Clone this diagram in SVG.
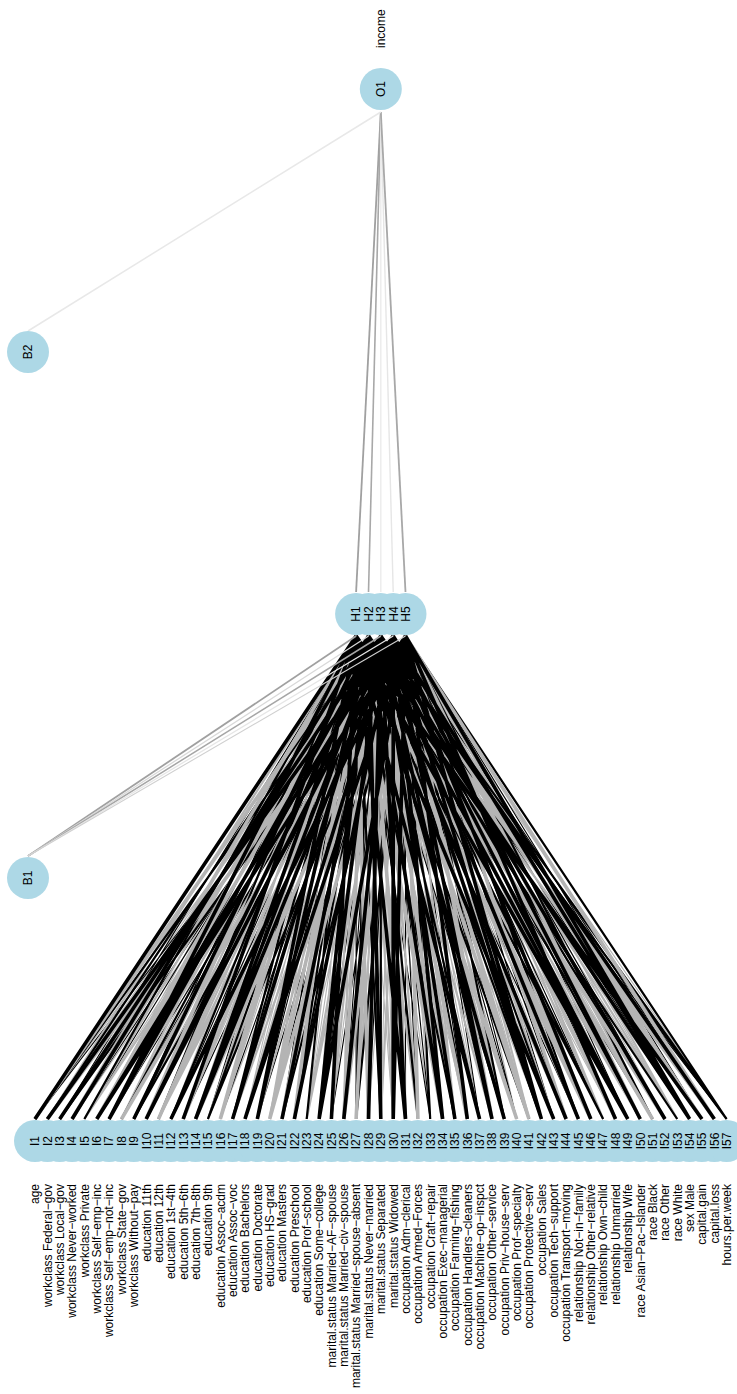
<svg xmlns="http://www.w3.org/2000/svg" width="737" height="1394" viewBox="0 0 737 1394">
<style>
text{font-family:"Liberation Sans",Arial,Helvetica,sans-serif;font-size:12px;fill:#000}
.nl{text-anchor:middle}
.vl{text-anchor:end}
.ol{text-anchor:start}
.nd{fill:#add8e6;stroke:none}
#connectors path{fill:none;stroke-linecap:butt}
.A{stroke:#000;stroke-width:3.6}
.B{stroke:#000;stroke-width:2.2}
.C{stroke:#000;stroke-width:1.1}
.D{stroke:#b4b4b4;stroke-width:3.6}
.E{stroke:#b4b4b4;stroke-width:2.2}
.F{stroke:#b4b4b4;stroke-width:1.1}
</style>
<rect width="737" height="1394" fill="#fff"/>
<g id="connectors">
<path class="F" d="M96.8 1119 356.1 636M170.9 1119 356.1 636M245 1119 356.1 636M319.1 1119 356.1 636M393.2 1119 356.1 636M467.3 1119 356.1 636M541.4 1119 356.1 636M615.5 1119 356.1 636M689.6 1119 356.1 636
M59.7 1119 368.5 636M121.5 1119 368.5 636M183.2 1119 368.5 636M245 1119 368.5 636M306.7 1119 368.5 636M368.5 1119 368.5 636M430.2 1119 368.5 636M492 1119 368.5 636M553.7 1119 368.5 636M615.5 1119 368.5 636M677.2 1119 368.5 636
M47.4 1119 380.8 636M133.8 1119 380.8 636M220.3 1119 380.8 636M306.7 1119 380.8 636M393.2 1119 380.8 636M479.6 1119 380.8 636M566.1 1119 380.8 636M652.5 1119 380.8 636
M35 1119 393.2 636M84.4 1119 393.2 636M133.8 1119 393.2 636M183.2 1119 393.2 636M232.6 1119 393.2 636M282 1119 393.2 636M331.4 1119 393.2 636M380.8 1119 393.2 636M430.2 1119 393.2 636M479.6 1119 393.2 636M529 1119 393.2 636M578.4 1119 393.2 636M627.8 1119 393.2 636M677.2 1119 393.2 636M726.6 1119 393.2 636
M72.1 1119 405.5 636M146.2 1119 405.5 636M220.3 1119 405.5 636M294.4 1119 405.5 636M368.5 1119 405.5 636M442.6 1119 405.5 636M516.7 1119 405.5 636M590.8 1119 405.5 636M664.9 1119 405.5 636"/>
<path class="C" d="M59.7 1119 356.1 636M133.8 1119 356.1 636M207.9 1119 356.1 636M282 1119 356.1 636M356.1 1119 356.1 636M430.2 1119 356.1 636M504.3 1119 356.1 636M578.4 1119 356.1 636M652.5 1119 356.1 636M726.6 1119 356.1 636
M84.4 1119 380.8 636M170.9 1119 380.8 636M257.3 1119 380.8 636M343.8 1119 380.8 636M430.2 1119 380.8 636M516.7 1119 380.8 636M603.1 1119 380.8 636M689.6 1119 380.8 636
M72.1 1119 393.2 636M121.5 1119 393.2 636M170.9 1119 393.2 636M220.3 1119 393.2 636M269.7 1119 393.2 636M319.1 1119 393.2 636M368.5 1119 393.2 636M417.9 1119 393.2 636M467.3 1119 393.2 636M516.7 1119 393.2 636M566.1 1119 393.2 636M615.5 1119 393.2 636M664.9 1119 393.2 636M714.3 1119 393.2 636
M35 1119 405.5 636M109.1 1119 405.5 636M183.2 1119 405.5 636M257.3 1119 405.5 636M331.4 1119 405.5 636M405.5 1119 405.5 636M479.6 1119 405.5 636M553.7 1119 405.5 636M627.8 1119 405.5 636M701.9 1119 405.5 636"/>
<path class="E" d="M47.4 1119 356.1 636M121.5 1119 356.1 636M195.6 1119 356.1 636M269.7 1119 356.1 636M343.8 1119 356.1 636M417.9 1119 356.1 636M492 1119 356.1 636M566.1 1119 356.1 636M640.2 1119 356.1 636M714.3 1119 356.1 636
M84.4 1119 368.5 636M146.2 1119 368.5 636M207.9 1119 368.5 636M269.7 1119 368.5 636M331.4 1119 368.5 636M393.2 1119 368.5 636M454.9 1119 368.5 636M516.7 1119 368.5 636M578.4 1119 368.5 636M640.2 1119 368.5 636M701.9 1119 368.5 636
M72.1 1119 380.8 636M158.5 1119 380.8 636M245 1119 380.8 636M331.4 1119 380.8 636M417.9 1119 380.8 636M504.3 1119 380.8 636M590.8 1119 380.8 636M677.2 1119 380.8 636
M59.7 1119 393.2 636M109.1 1119 393.2 636M158.5 1119 393.2 636M207.9 1119 393.2 636M257.3 1119 393.2 636M306.7 1119 393.2 636M356.1 1119 393.2 636M405.5 1119 393.2 636M454.9 1119 393.2 636M504.3 1119 393.2 636M553.7 1119 393.2 636M603.1 1119 393.2 636M652.5 1119 393.2 636M701.9 1119 393.2 636
M84.4 1119 405.5 636M158.5 1119 405.5 636M232.6 1119 405.5 636M306.7 1119 405.5 636M380.8 1119 405.5 636M454.9 1119 405.5 636M529 1119 405.5 636M603.1 1119 405.5 636M677.2 1119 405.5 636"/>
<path class="B" d="M84.4 1119 356.1 636M158.5 1119 356.1 636M232.6 1119 356.1 636M306.7 1119 356.1 636M380.8 1119 356.1 636M454.9 1119 356.1 636M529 1119 356.1 636M603.1 1119 356.1 636M677.2 1119 356.1 636
M47.4 1119 368.5 636M109.1 1119 368.5 636M170.9 1119 368.5 636M232.6 1119 368.5 636M294.4 1119 368.5 636M356.1 1119 368.5 636M417.9 1119 368.5 636M479.6 1119 368.5 636M541.4 1119 368.5 636M603.1 1119 368.5 636M664.9 1119 368.5 636M726.6 1119 368.5 636
M35 1119 380.8 636M121.5 1119 380.8 636M207.9 1119 380.8 636M294.4 1119 380.8 636M380.8 1119 380.8 636M467.3 1119 380.8 636M553.7 1119 380.8 636M640.2 1119 380.8 636M726.6 1119 380.8 636
M59.7 1119 405.5 636M133.8 1119 405.5 636M207.9 1119 405.5 636M282 1119 405.5 636M356.1 1119 405.5 636M430.2 1119 405.5 636M504.3 1119 405.5 636M578.4 1119 405.5 636M652.5 1119 405.5 636M726.6 1119 405.5 636"/>
<path class="D" d="M72.1 1119 356.1 636M146.2 1119 356.1 636M220.3 1119 356.1 636M294.4 1119 356.1 636M368.5 1119 356.1 636M442.6 1119 356.1 636M516.7 1119 356.1 636M590.8 1119 356.1 636M664.9 1119 356.1 636
M35 1119 368.5 636M96.8 1119 368.5 636M158.5 1119 368.5 636M220.3 1119 368.5 636M282 1119 368.5 636M343.8 1119 368.5 636M405.5 1119 368.5 636M467.3 1119 368.5 636M529 1119 368.5 636M590.8 1119 368.5 636M652.5 1119 368.5 636M714.3 1119 368.5 636
M96.8 1119 380.8 636M183.2 1119 380.8 636M269.7 1119 380.8 636M356.1 1119 380.8 636M442.6 1119 380.8 636M529 1119 380.8 636M615.5 1119 380.8 636M701.9 1119 380.8 636
M47.4 1119 405.5 636M121.5 1119 405.5 636M195.6 1119 405.5 636M269.7 1119 405.5 636M343.8 1119 405.5 636M417.9 1119 405.5 636M492 1119 405.5 636M566.1 1119 405.5 636M640.2 1119 405.5 636M714.3 1119 405.5 636"/>
<path class="A" d="M35 1119 356.1 636M109.1 1119 356.1 636M183.2 1119 356.1 636M257.3 1119 356.1 636M331.4 1119 356.1 636M405.5 1119 356.1 636M479.6 1119 356.1 636M553.7 1119 356.1 636M627.8 1119 356.1 636M701.9 1119 356.1 636
M72.1 1119 368.5 636M133.8 1119 368.5 636M195.6 1119 368.5 636M257.3 1119 368.5 636M319.1 1119 368.5 636M380.8 1119 368.5 636M442.6 1119 368.5 636M504.3 1119 368.5 636M566.1 1119 368.5 636M627.8 1119 368.5 636M689.6 1119 368.5 636
M59.7 1119 380.8 636M146.2 1119 380.8 636M232.6 1119 380.8 636M319.1 1119 380.8 636M405.5 1119 380.8 636M492 1119 380.8 636M578.4 1119 380.8 636M664.9 1119 380.8 636M109.1 1119 380.8 636M195.6 1119 380.8 636M282 1119 380.8 636M368.5 1119 380.8 636M454.9 1119 380.8 636M541.4 1119 380.8 636M627.8 1119 380.8 636M714.3 1119 380.8 636
M47.4 1119 393.2 636M96.8 1119 393.2 636M146.2 1119 393.2 636M195.6 1119 393.2 636M245 1119 393.2 636M294.4 1119 393.2 636M343.8 1119 393.2 636M393.2 1119 393.2 636M442.6 1119 393.2 636M492 1119 393.2 636M541.4 1119 393.2 636M590.8 1119 393.2 636M640.2 1119 393.2 636M689.6 1119 393.2 636
M96.8 1119 405.5 636M170.9 1119 405.5 636M245 1119 405.5 636M319.1 1119 405.5 636M393.2 1119 405.5 636M467.3 1119 405.5 636M541.4 1119 405.5 636M615.5 1119 405.5 636M689.6 1119 405.5 636"/>
<path d="M28 856 356.1 636" stroke="#a0a0a0" stroke-width="1.8"/>
<path d="M28 856 368.5 636" stroke="#d9d9d9" stroke-width="1.3"/>
<path d="M28 856 380.8 636" stroke="#a6a6a6" stroke-width="1.5"/>
<path d="M28 856 393.2 636" stroke="#e6e6e6" stroke-width="1.3"/>
<path d="M28 856 405.5 636" stroke="#d0d0d0" stroke-width="1.1"/>
<path d="M356.1 592 380.8 112" stroke="#a0a0a0" stroke-width="1.8"/>
<path d="M368.5 592 380.8 112" stroke="#a8a8a8" stroke-width="1.6"/>
<path d="M380.8 592 380.8 112" stroke="#ececec" stroke-width="1.4"/>
<path d="M393.2 592 380.8 112" stroke="#e6e6e6" stroke-width="1.4"/>
<path d="M405.5 592 380.8 112" stroke="#a8a8a8" stroke-width="1.8"/>
<path d="M28 331 380.8 112" stroke="#e8e8e8" stroke-width="1.5"/>
</g>
<g id="node-shapes" class="nd">
<circle cx="35" cy="1141" r="21"/><circle cx="47.4" cy="1141" r="21"/><circle cx="59.7" cy="1141" r="21"/><circle cx="72.1" cy="1141" r="21"/><circle cx="84.4" cy="1141" r="21"/><circle cx="96.8" cy="1141" r="21"/><circle cx="109.1" cy="1141" r="21"/><circle cx="121.5" cy="1141" r="21"/><circle cx="133.8" cy="1141" r="21"/><circle cx="146.2" cy="1141" r="21"/>
<circle cx="158.5" cy="1141" r="21"/><circle cx="170.9" cy="1141" r="21"/><circle cx="183.2" cy="1141" r="21"/><circle cx="195.6" cy="1141" r="21"/><circle cx="207.9" cy="1141" r="21"/><circle cx="220.3" cy="1141" r="21"/><circle cx="232.6" cy="1141" r="21"/><circle cx="245" cy="1141" r="21"/><circle cx="257.3" cy="1141" r="21"/><circle cx="269.7" cy="1141" r="21"/>
<circle cx="282" cy="1141" r="21"/><circle cx="294.4" cy="1141" r="21"/><circle cx="306.7" cy="1141" r="21"/><circle cx="319.1" cy="1141" r="21"/><circle cx="331.4" cy="1141" r="21"/><circle cx="343.8" cy="1141" r="21"/><circle cx="356.1" cy="1141" r="21"/><circle cx="368.5" cy="1141" r="21"/><circle cx="380.8" cy="1141" r="21"/><circle cx="393.2" cy="1141" r="21"/>
<circle cx="405.5" cy="1141" r="21"/><circle cx="417.9" cy="1141" r="21"/><circle cx="430.2" cy="1141" r="21"/><circle cx="442.6" cy="1141" r="21"/><circle cx="454.9" cy="1141" r="21"/><circle cx="467.3" cy="1141" r="21"/><circle cx="479.6" cy="1141" r="21"/><circle cx="492" cy="1141" r="21"/><circle cx="504.3" cy="1141" r="21"/><circle cx="516.7" cy="1141" r="21"/>
<circle cx="529" cy="1141" r="21"/><circle cx="541.4" cy="1141" r="21"/><circle cx="553.7" cy="1141" r="21"/><circle cx="566.1" cy="1141" r="21"/><circle cx="578.4" cy="1141" r="21"/><circle cx="590.8" cy="1141" r="21"/><circle cx="603.1" cy="1141" r="21"/><circle cx="615.5" cy="1141" r="21"/><circle cx="627.8" cy="1141" r="21"/><circle cx="640.2" cy="1141" r="21"/>
<circle cx="652.5" cy="1141" r="21"/><circle cx="664.9" cy="1141" r="21"/><circle cx="677.2" cy="1141" r="21"/><circle cx="689.6" cy="1141" r="21"/><circle cx="701.9" cy="1141" r="21"/><circle cx="714.3" cy="1141" r="21"/><circle cx="726.6" cy="1141" r="21"/>
<circle cx="356.1" cy="614" r="21"/><circle cx="368.5" cy="614" r="21"/><circle cx="380.8" cy="614" r="21"/><circle cx="393.2" cy="614" r="21"/><circle cx="405.5" cy="614" r="21"/>
<circle cx="380.8" cy="89" r="21"/>
<circle cx="28" cy="878" r="21"/>
<circle cx="28" cy="352" r="21"/>
</g>
<g id="nodes" transform="rotate(-90)">
<g id="I1"><text class="nl" x="-1141" y="39.3">I1</text><text class="vl" x="-1184" y="39.3">age</text></g>
<g id="I2"><text class="nl" x="-1141" y="51.7">I2</text><text class="vl" x="-1184" y="51.7">workclass Federal−gov</text></g>
<g id="I3"><text class="nl" x="-1141" y="64">I3</text><text class="vl" x="-1184" y="64">workclass Local−gov</text></g>
<g id="I4"><text class="nl" x="-1141" y="76.4">I4</text><text class="vl" x="-1184" y="76.4">workclass Never−worked</text></g>
<g id="I5"><text class="nl" x="-1141" y="88.7">I5</text><text class="vl" x="-1184" y="88.7">workclass Private</text></g>
<g id="I6"><text class="nl" x="-1141" y="101.1">I6</text><text class="vl" x="-1184" y="101.1">workclass Self−emp−inc</text></g>
<g id="I7"><text class="nl" x="-1141" y="113.4">I7</text><text class="vl" x="-1184" y="113.4">workclass Self−emp−not−inc</text></g>
<g id="I8"><text class="nl" x="-1141" y="125.8">I8</text><text class="vl" x="-1184" y="125.8">workclass State−gov</text></g>
<g id="I9"><text class="nl" x="-1141" y="138.1">I9</text><text class="vl" x="-1184" y="138.1">workclass Without−pay</text></g>
<g id="I10"><text class="nl" x="-1141" y="150.5">I10</text><text class="vl" x="-1184" y="150.5">education 11th</text></g>
<g id="I11"><text class="nl" x="-1141" y="162.8">I11</text><text class="vl" x="-1184" y="162.8">education 12th</text></g>
<g id="I12"><text class="nl" x="-1141" y="175.2">I12</text><text class="vl" x="-1184" y="175.2">education 1st−4th</text></g>
<g id="I13"><text class="nl" x="-1141" y="187.5">I13</text><text class="vl" x="-1184" y="187.5">education 5th−6th</text></g>
<g id="I14"><text class="nl" x="-1141" y="199.9">I14</text><text class="vl" x="-1184" y="199.9">education 7th−8th</text></g>
<g id="I15"><text class="nl" x="-1141" y="212.2">I15</text><text class="vl" x="-1184" y="212.2">education 9th</text></g>
<g id="I16"><text class="nl" x="-1141" y="224.6">I16</text><text class="vl" x="-1184" y="224.6">education Assoc−acdm</text></g>
<g id="I17"><text class="nl" x="-1141" y="236.9">I17</text><text class="vl" x="-1184" y="236.9">education Assoc−voc</text></g>
<g id="I18"><text class="nl" x="-1141" y="249.3">I18</text><text class="vl" x="-1184" y="249.3">education Bachelors</text></g>
<g id="I19"><text class="nl" x="-1141" y="261.6">I19</text><text class="vl" x="-1184" y="261.6">education Doctorate</text></g>
<g id="I20"><text class="nl" x="-1141" y="274">I20</text><text class="vl" x="-1184" y="274">education HS−grad</text></g>
<g id="I21"><text class="nl" x="-1141" y="286.3">I21</text><text class="vl" x="-1184" y="286.3">education Masters</text></g>
<g id="I22"><text class="nl" x="-1141" y="298.7">I22</text><text class="vl" x="-1184" y="298.7">education Preschool</text></g>
<g id="I23"><text class="nl" x="-1141" y="311">I23</text><text class="vl" x="-1184" y="311">education Prof−school</text></g>
<g id="I24"><text class="nl" x="-1141" y="323.4">I24</text><text class="vl" x="-1184" y="323.4">education Some−college</text></g>
<g id="I25"><text class="nl" x="-1141" y="335.7">I25</text><text class="vl" x="-1184" y="335.7">marital.status Married−AF−spouse</text></g>
<g id="I26"><text class="nl" x="-1141" y="348.1">I26</text><text class="vl" x="-1184" y="348.1">marital.status Married−civ−spouse</text></g>
<g id="I27"><text class="nl" x="-1141" y="360.4">I27</text><text class="vl" x="-1184" y="360.4">marital.status Married−spouse−absent</text></g>
<g id="I28"><text class="nl" x="-1141" y="372.8">I28</text><text class="vl" x="-1184" y="372.8">marital.status Never−married</text></g>
<g id="I29"><text class="nl" x="-1141" y="385.1">I29</text><text class="vl" x="-1184" y="385.1">marital.status Separated</text></g>
<g id="I30"><text class="nl" x="-1141" y="397.5">I30</text><text class="vl" x="-1184" y="397.5">marital.status Widowed</text></g>
<g id="I31"><text class="nl" x="-1141" y="409.8">I31</text><text class="vl" x="-1184" y="409.8">occupation Adm−clerical</text></g>
<g id="I32"><text class="nl" x="-1141" y="422.2">I32</text><text class="vl" x="-1184" y="422.2">occupation Armed−Forces</text></g>
<g id="I33"><text class="nl" x="-1141" y="434.5">I33</text><text class="vl" x="-1184" y="434.5">occupation Craft−repair</text></g>
<g id="I34"><text class="nl" x="-1141" y="446.9">I34</text><text class="vl" x="-1184" y="446.9">occupation Exec−managerial</text></g>
<g id="I35"><text class="nl" x="-1141" y="459.2">I35</text><text class="vl" x="-1184" y="459.2">occupation Farming−fishing</text></g>
<g id="I36"><text class="nl" x="-1141" y="471.6">I36</text><text class="vl" x="-1184" y="471.6">occupation Handlers−cleaners</text></g>
<g id="I37"><text class="nl" x="-1141" y="483.9">I37</text><text class="vl" x="-1184" y="483.9">occupation Machine−op−inspct</text></g>
<g id="I38"><text class="nl" x="-1141" y="496.3">I38</text><text class="vl" x="-1184" y="496.3">occupation Other−service</text></g>
<g id="I39"><text class="nl" x="-1141" y="508.6">I39</text><text class="vl" x="-1184" y="508.6">occupation Priv−house−serv</text></g>
<g id="I40"><text class="nl" x="-1141" y="521">I40</text><text class="vl" x="-1184" y="521">occupation Prof−specialty</text></g>
<g id="I41"><text class="nl" x="-1141" y="533.3">I41</text><text class="vl" x="-1184" y="533.3">occupation Protective−serv</text></g>
<g id="I42"><text class="nl" x="-1141" y="545.7">I42</text><text class="vl" x="-1184" y="545.7">occupation Sales</text></g>
<g id="I43"><text class="nl" x="-1141" y="558">I43</text><text class="vl" x="-1184" y="558">occupation Tech−support</text></g>
<g id="I44"><text class="nl" x="-1141" y="570.4">I44</text><text class="vl" x="-1184" y="570.4">occupation Transport−moving</text></g>
<g id="I45"><text class="nl" x="-1141" y="582.7">I45</text><text class="vl" x="-1184" y="582.7">relationship Not−in−family</text></g>
<g id="I46"><text class="nl" x="-1141" y="595.1">I46</text><text class="vl" x="-1184" y="595.1">relationship Other−relative</text></g>
<g id="I47"><text class="nl" x="-1141" y="607.4">I47</text><text class="vl" x="-1184" y="607.4">relationship Own−child</text></g>
<g id="I48"><text class="nl" x="-1141" y="619.8">I48</text><text class="vl" x="-1184" y="619.8">relationship Unmarried</text></g>
<g id="I49"><text class="nl" x="-1141" y="632.1">I49</text><text class="vl" x="-1184" y="632.1">relationship Wife</text></g>
<g id="I50"><text class="nl" x="-1141" y="644.5">I50</text><text class="vl" x="-1184" y="644.5">race Asian−Pac−Islander</text></g>
<g id="I51"><text class="nl" x="-1141" y="656.8">I51</text><text class="vl" x="-1184" y="656.8">race Black</text></g>
<g id="I52"><text class="nl" x="-1141" y="669.2">I52</text><text class="vl" x="-1184" y="669.2">race Other</text></g>
<g id="I53"><text class="nl" x="-1141" y="681.5">I53</text><text class="vl" x="-1184" y="681.5">race White</text></g>
<g id="I54"><text class="nl" x="-1141" y="693.9">I54</text><text class="vl" x="-1184" y="693.9">sex Male</text></g>
<g id="I55"><text class="nl" x="-1141" y="706.2">I55</text><text class="vl" x="-1184" y="706.2">capital.gain</text></g>
<g id="I56"><text class="nl" x="-1141" y="718.6">I56</text><text class="vl" x="-1184" y="718.6">capital.loss</text></g>
<g id="I57"><text class="nl" x="-1141" y="730.9">I57</text><text class="vl" x="-1184" y="730.9">hours.per.week</text></g>
<g id="H1"><text class="nl" x="-614" y="360.4">H1</text></g>
<g id="H2"><text class="nl" x="-614" y="372.8">H2</text></g>
<g id="H3"><text class="nl" x="-614" y="385.1">H3</text></g>
<g id="H4"><text class="nl" x="-614" y="397.5">H4</text></g>
<g id="H5"><text class="nl" x="-614" y="409.8">H5</text></g>
<g id="O1"><text class="nl" x="-89" y="385.1">O1</text><text class="ol" x="-48" y="385.1">income</text></g>
<g id="B1"><text class="nl" x="-878" y="32.3">B1</text></g>
<g id="B2"><text class="nl" x="-352" y="32.3">B2</text></g>
</g>
</svg>
